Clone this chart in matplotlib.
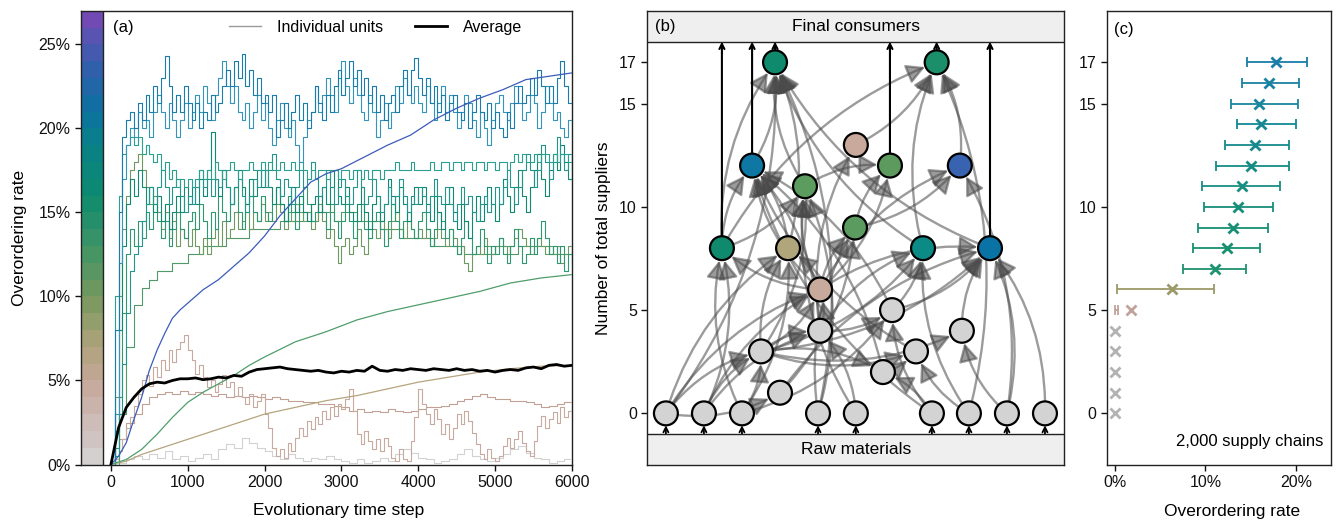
import numpy as np
import matplotlib
matplotlib.use('Agg')
import matplotlib.pyplot as plt
from matplotlib.colors import LinearSegmentedColormap
from matplotlib.patches import FancyArrowPatch
from matplotlib.lines import Line2D
from matplotlib.ticker import FuncFormatter

plt.rcParams['font.family'] = ['Liberation Sans', 'DejaVu Sans']
plt.rcParams['font.size'] = 11.5

# ---------------- Panel (a) data : overordering rate (%) ----------------
STEP_NOISY = 50   # time step between values of noisy series
STEP_AVG = 100

blue_1 = [0, 8, 15, 19.5, 20.5, 21, 20, 21.5, 20.5, 22, 21, 22.5, 21.5, 23, 24.3, 22.5, 21, 22, 21, 22.5, 21.5,
          20.5, 21.5, 20, 21, 20.5, 22, 21, 21.5, 22.5, 23.5, 22.5, 24, 23, 24.4, 22.5, 23.5, 22, 23, 21.5, 22,
          21, 22, 19.5, 20.5, 21.5, 20, 21, 22, 20.5, 21.5, 20, 21, 22.5, 21.5, 20.5, 22, 21, 22.5, 23.5, 22,
          23, 24, 22.5, 23.5, 22, 23, 21.5, 22.5, 21, 22, 20.5, 21.5, 22, 21, 22.5, 23.5, 22, 23.5, 24.2, 23,
          22, 23, 21.5, 22.5, 21, 22, 20.5, 21.5, 22, 21, 20.5, 21.5, 20, 21, 22, 21, 20.5, 21.5, 20, 21,
          20, 19.5, 21, 20, 21.5, 22.5, 21.5, 22, 23, 22, 23.5, 22.5, 21.5, 22.5, 21.5, 23, 24, 22.5, 21.5, 22]

blue_2 = [0, 3, 12, 17, 19, 20, 19.5, 21, 20, 20.5, 19.5, 21, 22, 21, 20, 21.5, 20.5, 19.5, 20.5, 21.5, 20,
          21, 22, 21, 22.5, 21.5, 20.5, 22, 23, 24, 22.5, 21.5, 22.5, 21, 20.5, 21.5, 20, 21, 22, 20.5, 21.5,
          20, 19, 20.5, 21.5, 20, 19.5, 20.5, 19, 18, 19.5, 20.5, 21, 22.5, 21, 22, 23, 22, 21, 23, 24,
          22.5, 21.5, 23, 22, 21, 20.5, 22, 21, 19.5, 20.5, 21.5, 20, 21, 22.5, 21.5, 23, 22, 21.5, 22.5, 21.5,
          21, 22.5, 21.5, 20.5, 21.5, 22.5, 21, 22, 21, 20, 21, 22, 21.5, 20.5, 19.5, 21, 20, 19, 20.5, 21.5,
          22, 21, 20.5, 21.5, 22.5, 21.5, 20.5, 21, 22, 21.5, 20, 21, 22.5, 21.5, 20.5, 21, 20, 19.5, 20.5, 19.5]

green_a = [0, 10, 16, 18.5, 19, 19.5, 19, 19.5, 18.5, 19, 18.5, 18, 18.5, 17.5, 18, 17, 17.5, 16.5, 17, 16.5, 17,
           16.5, 17, 17.5, 17, 17.5, 17, 18, 17.5, 17, 17.5, 18, 17.5, 17, 17.5, 17.5, 18, 17.5, 17.5, 18, 17.5,
           18, 17.5, 17.5, 18, 17.5, 17.5, 18, 17.5, 18, 17.5, 17, 17.5, 17, 17.5, 17.5, 17, 17.5, 17.5, 17, 17.5,
           17.5, 17, 17.5, 17.5, 17, 17.5, 17, 17.5, 17.5, 17, 17.5, 17.5, 17.5, 18, 17.5, 17.5, 17.5, 18, 17.5, 17.5,
           17.5, 17.5, 18, 17.5, 17.5, 18, 18, 17.5, 18, 18, 17.5, 18, 18, 17.5, 18, 18, 17.5, 18, 18, 17.5,
           18, 18, 17.5, 18, 18.5, 18, 18.5, 18, 18, 18.5, 18, 18.5, 18.5, 18, 18.5, 18, 18.5, 18.5, 18, 18.5]

green_b = [0, 2, 8, 13, 15.5, 17, 16, 17.5, 16.5, 15.5, 16.5, 15, 16, 14.5, 15.5, 14, 15, 16, 15, 16.5, 15.5,
           16.5, 15.5, 17, 16, 17.5, 19.8, 17, 16, 17.5, 16.5, 15.5, 16.5, 17.5, 16.5, 15.5, 17, 16, 17.5, 16.5, 17.5,
           16.5, 15.5, 16.5, 15.5, 14.5, 15.5, 16.5, 15, 16, 15, 14.5, 15.5, 16, 15, 16.5, 15.5, 16.5, 17.5, 16, 15.5,
           16.5, 15, 14.5, 15.5, 16.5, 15, 14, 15.5, 16, 14.5, 15.5, 17, 16, 15, 16.5, 15.5, 14.5, 15.5, 16.5, 15.5,
           16.5, 15.5, 14.5, 16, 15, 14, 15.5, 16.5, 15, 14, 15.5, 14.5, 13.5, 15, 16, 14.5, 15.5, 16.5, 15.5, 14.5,
           15.5, 17, 16, 15, 16.5, 17.5, 16, 15, 16.5, 17.5, 18.5, 17, 16, 17.5, 18.5, 17.5, 19, 18, 17, 18]

green_c = [0, 1, 4, 9, 12.5, 14, 13, 14.5, 13.5, 15, 14, 15.5, 14.5, 13.5, 14.5, 13, 14, 15, 14, 13.5, 14.5,
           15, 14, 15.5, 14.5, 13.5, 15, 14, 16, 15, 14.5, 15.5, 16.5, 15, 14, 15.5, 16, 15, 14.5, 16, 15,
           14.5, 15.5, 16.5, 15.5, 14.5, 16, 15, 14, 15.5, 16.5, 15.5, 14.5, 15, 16, 15, 14, 15.5, 14.5, 13.5, 14.5,
           15.5, 14.5, 13.5, 14.5, 15.5, 14, 13.5, 14.5, 15, 14, 13, 14.5, 15.5, 14.5, 13.5, 14.5, 15, 14, 13.5, 14.5,
           15, 14, 13, 14, 15, 14.5, 13.5, 14, 13, 12.5, 13.5, 14.5, 13.5, 12.5, 13, 14, 13, 12, 13, 12.5,
           13.5, 12.5, 12, 13, 14, 13, 12, 12.5, 13.5, 12.5, 13.5, 14.5, 13.5, 12.5, 13, 12, 13, 11.5, 12.5, 12]

green_d = [0, 4, 10, 14, 16, 17.5, 18, 18.5, 17.5, 16.5, 15.5, 16, 15, 14, 15, 13.5, 14.5, 13, 14, 13.5, 13,
           14, 13, 12.5, 13.5, 12.5, 13.5, 14, 13, 14.5, 13.5, 14, 15, 14, 14.5, 15, 14, 15, 14.5, 15.5, 14.5,
           15, 14.5, 15.5, 15, 14, 15, 14.5, 15.5, 15, 14.5, 15, 14, 14.5, 15.5, 14.5, 13.5, 14, 13, 12, 13,
           13.5, 12.5, 13, 14, 13, 12.5, 13.5, 14, 13.5, 14.5, 14, 13.5, 14.5, 15, 14, 13.5, 14.5, 14, 13.5, 14,
           13.5, 14, 13, 13.5, 14, 13.5, 13, 14, 13.5, 12.5, 13, 12, 11.5, 12.5, 13, 12.5, 13.5, 13, 12.5, 13,
           13.5, 13, 12.5, 13, 13.5, 14, 13.5, 13, 12.5, 13, 13.5, 13, 12.5, 13, 12.5, 13, 12, 12.5, 13, 12.5]

green_f = [0, 0.5, 3, 6, 9, 11.5, 12.5, 13, 14.5, 15.5, 16.5, 15.5, 16.5, 17.5, 16.5, 15.5, 16.5, 17, 16, 15, 16,
           15.5, 16.5, 17.5, 16.5, 17, 16, 17, 16.5, 17.5, 16.5, 15.5, 16.5, 17, 16, 15, 16, 17, 16.5, 17.5, 16.5,
           17.5, 18.5, 17, 16, 17, 16.5, 15.5, 16.5, 17.5, 16.5, 17, 18, 17, 16, 16.5, 17.5, 16.5, 15.5, 16.5, 17,
           16, 15.5, 16.5, 17.5, 16.5, 15.5, 16, 17, 16, 15, 15.5, 16.5, 15.5, 16, 17, 16, 15, 16, 15.5, 16.5,
           16, 15, 16, 17, 16, 15.5, 16.5, 15.5, 14.5, 15.5, 16.5, 15.5, 16, 15, 14.5, 15.5, 16, 15, 15.5, 16.5,
           15.5, 16.5, 17.5, 16.5, 15.5, 16.5, 17.5, 18.5, 17.5, 16.5, 17.5, 19, 18, 17, 18, 19.5, 18.5, 17.5, 18.5, 17.5]

rosy_2 = [0, 0.3, 0.8, 1.5, 2.2, 2.8, 3.5, 4.2, 5.0, 5.3, 4.7, 5.8, 5.2, 6.2, 5.6, 6.8, 6.1, 6.9, 7.3, 7.7, 6.8,
          6.2, 5.4, 5.9, 5.2, 4.6, 5.0, 4.3, 4.8, 5.3, 4.6, 4.9, 4.1, 4.6, 4.0, 3.6, 4.2, 3.4, 3.8, 4.2, 3.0,
          2.2, 1.0, 0.5, 0.9, 0.4, 1.3, 0.8, 1.6, 2.2, 1.7, 2.6, 2.1, 2.8, 2.4, 3.2, 2.7, 3.4, 2.9, 3.6, 3.3,
          3.9, 4.5, 3.2, 1.8, 1.2, 2.0, 1.4, 0.9, 1.5, 0.8, 1.6, 1.1, 0.4, 0.2, 0.9, 0.3, 0.2, 1.4, 2.8, 4.5,
          3.6, 3.0, 2.4, 3.3, 2.7, 1.8, 2.4, 1.5, 2.2, 3.0, 2.4, 3.2, 2.6, 1.9, 1.2, 0.6, 0.3, 0.9, 0.4, 0.2,
          0.5, 1.1, 1.6, 1.0, 1.5, 2.0, 1.3, 0.8, 0.5, 1.4, 2.3, 2.9, 2.2, 2.7, 3.1, 2.5, 3.4, 2.8, 3.2, 3.0]

# 100-step series
green_e = [0, 3, 7, 9.5, 10.5, 11, 11.5, 11.5, 12, 12, 12.5,
           12.5, 13, 13, 13, 13.5, 13.5, 13.5, 14, 14, 14,
           14, 14.5, 14.5, 14.5, 15, 14.5, 15, 15, 14.5, 15,
           15, 14.5, 14.5, 14.5, 14, 14, 14, 13.5, 13.5, 13.5,
           13.5, 13, 13, 13, 13, 12.5, 12.5, 12.5, 12.5, 13,
           13, 12.5, 13, 13, 13, 13, 12.5, 12.5, 12.5, 12.5]

rosy_1 = [0, 1.5, 2.5, 3.0, 3.6, 4.0, 4.2, 4.3, 4.2, 4.4, 4.2,
          4.3, 4.2, 4.1, 4.2, 4.0, 4.1, 4.0, 4.1, 4.0, 3.9,
          4.0, 3.9, 3.8, 3.8, 3.7, 3.7, 3.6, 3.6, 3.5, 3.4,
          3.2, 3.3, 3.1, 3.2, 3.1, 3.3, 3.2, 3.1, 3.2, 3.3,
          3.4, 3.4, 3.5, 3.6, 3.8, 3.9, 4.1, 4.2, 4.0, 3.9,
          3.9, 3.8, 3.8, 3.7, 3.6, 3.4, 3.5, 3.6, 3.7, 3.7]

grey_1 = [0, 0.1, 0.3, 0.5, 0.3, 0.6, 0.4, 0.8, 0.3, 0.5, 0.2,
          0.4, 0.6, 0.3, 0.9, 1.2, 1.0, 1.6, 1.3, 1.0, 0.8,
          0.5, 0.3, 0.6, 0.4, 0.2, 0.4, 0.3, 0.5, 0.3, 0.2,
          0.1, 0.3, 0.1, 0.2, 0.4, 0.2, 0.6, 0.9, 0.7, 0.4,
          0.3, 0.1, 0.2, 0.3, 0.6, 0.9, 0.5, 0.3, 0.2, 0.4,
          0.6, 0.9, 1.1, 0.7, 0.4, 0.3, 0.1, 0.2, 0.3, 0.1]

average = [0, 2.2, 3.4, 4.0, 4.5, 4.8, 4.9, 4.85, 5.0, 5.1, 5.1,
           5.15, 5.05, 5.1, 5.2, 5.15, 5.3, 5.25, 5.5, 5.65, 5.7,
           5.75, 5.8, 5.7, 5.65, 5.6, 5.55, 5.6, 5.5, 5.45, 5.55,
           5.5, 5.6, 5.55, 5.85, 5.6, 5.55, 5.65, 5.6, 5.7, 5.65,
           5.6, 5.7, 5.65, 5.6, 5.7, 5.6, 5.65, 5.55, 5.6, 5.5,
           5.6, 5.65, 5.6, 5.75, 5.8, 5.7, 5.9, 5.95, 5.85, 5.9]

# smooth series (time, value)
smooth_blue_t = [0, 100, 200, 300, 400, 500, 600, 700, 800, 900, 1000, 1200, 1400, 1600, 1800, 2000, 2200,
                 2400, 2600, 2800, 3000, 3300, 3600, 3900, 4200, 4500, 4800, 5100, 5400, 5700, 6000]
smooth_blue_v = [0, 0.5, 1.3, 2.7, 4.0, 5.6, 6.8, 7.8, 8.7, 9.2, 9.6, 10.4, 11.0, 11.8, 12.6, 13.6, 14.8,
                 15.8, 16.8, 17.3, 17.6, 18.3, 19.0, 19.6, 20.5, 21.2, 21.8, 22.3, 22.9, 23.1, 23.3]
smooth_green_t = [0, 200, 400, 600, 800, 1000, 1200, 1400, 1600, 1800, 2000, 2400, 2800, 3200, 3600, 4000,
                  4400, 4800, 5200, 5600, 6000]
smooth_green_v = [0, 0.3, 0.9, 1.8, 2.8, 3.7, 4.3, 4.8, 5.3, 5.9, 6.4, 7.3, 7.9, 8.6, 9.1, 9.5,
                  9.9, 10.3, 10.8, 11.1, 11.3]
smooth_tan_t = [0, 200, 400, 600, 800, 1000, 1200, 1600, 2000, 2400, 2800, 3200, 3600, 4000, 4400, 4800,
                5200, 5600, 6000]
smooth_tan_v = [0, 0.2, 0.6, 0.9, 1.2, 1.5, 1.8, 2.4, 3.0, 3.4, 3.8, 4.1, 4.5, 4.9, 5.2, 5.5, 5.7, 5.85, 5.9]

# colour scale anchors (value in %, colour)
cmap_pos = [0, 2, 5, 7, 10, 13, 16, 19, 21, 23, 25, 27]
cmap_col = ['#d4d4d4', '#cfbfbd', '#c4a797', '#b0a37c', '#75985d', '#3f9466', '#0c8b6f',
            '#0a8088', '#0b72a0', '#2763a9', '#4d57b1', '#7c46b4']

# ---------------- Panel (b) data : supply network ----------------
node_names = ['r0', 'r1', 'r2', 'r3', 'r4', 'r5', 'r6', 'r7', 'r8', 'a1', 'a2', 'a3', 'b3', 'a4', 'b4', 'a5',
              'a6', 'a8', 'b8', 'c8', 'd8', 'a9', 'a11', 'a12', 'b12', 'c12', 'a13', 'a17', 'b17']
node_suppliers = [0, 0, 0, 0, 0, 0, 0, 0, 0, 1, 2, 3, 3, 4, 4, 5,
                  6, 8, 8, 8, 8, 9, 11, 12, 12, 12, 13, 17, 17]
node_layout_x = [0.90, 2.74, 4.58, 8.26, 10.09, 13.77, 15.56, 17.40, 19.24, 6.42, 11.40, 5.50, 13.00, 8.36, 15.22, 11.84,
                 8.36, 3.61, 6.81, 13.34, 16.58, 10.05, 7.63, 5.07, 11.74, 15.12, 10.09, 6.18, 14.00]
node_colors = ['#d3d3d3'] * 16 + ['#c8aa9c', '#0f8a6c', '#b1a57c', '#0b8a86', '#0a73a5', '#5b9b60', '#5c9c5e',
                                  '#0f77a3', '#5c9b5d', '#3763b1', '#c8a99c', '#0f8a6c', '#1a8f69']
edges = [('r0', 'a1'),
         ('a3', 'a2'), ('r5', 'a2'),
         ('r1', 'a3'), ('r2', 'a3'), ('r0', 'a3'),
         ('a2', 'b3'), ('r6', 'b3'), ('a3', 'b3'),
         ('a3', 'a4'), ('r4', 'a4'), ('r1', 'a4'),
         ('a3', 'b4'), ('r7', 'b4'),
         ('a4', 'a5'), ('r5', 'a5'), ('r2', 'a5'),
         ('r0', 'a6'), ('a3', 'a6'), ('r1', 'a6'), ('a4', 'a6'),
         ('a6', 'a8'), ('r1', 'a8'), ('r2', 'a8'),
         ('r2', 'b8'), ('a3', 'b8'), ('a6', 'b8'), ('r0', 'b8'),
         ('a5', 'c8'), ('r6', 'c8'), ('a3', 'c8'), ('a4', 'c8'),
         ('a5', 'd8'), ('a6', 'd8'), ('a3', 'd8'), ('b4', 'd8'), ('r8', 'd8'), ('a1', 'd8'), ('r7', 'd8'),
         ('a6', 'a9'), ('a1', 'a9'), ('r3', 'a9'),
         ('a8', 'a11'), ('a6', 'a11'), ('r3', 'a11'), ('r4', 'a11'), ('a3', 'a11'),
         ('a8', 'a12'), ('b8', 'a12'), ('a6', 'a12'), ('a5', 'a12'), ('r5', 'a12'), ('a4', 'a12'), ('b3', 'a12'),
         ('a2', 'a12'),
         ('a11', 'b12'), ('a6', 'b12'), ('a9', 'b12'),
         ('a9', 'c12'), ('a6', 'c12'), ('r7', 'c12'),
         ('a4', 'a13'),
         ('r0', 'a17'), ('a8', 'a17'), ('a12', 'a17'), ('a11', 'a17'), ('b8', 'a17'), ('c8', 'a17'),
         ('r3', 'a17'), ('d8', 'a17'),
         ('a13', 'b17'), ('c8', 'b17'), ('c12', 'b17'), ('a8', 'b17'), ('r6', 'b17')]
to_consumers = ['a8', 'a12', 'a17', 'b12', 'b17', 'd8']

# ---------------- Panel (c) data ----------------
c_suppliers = list(range(18))
c_mean = [0, 0, 0, 0, 0, 1.8, 6.3, 11.1, 12.4, 13.1, 13.6, 14.1, 15.0, 15.5, 16.2, 15.9, 17.0, 17.8]
c_low = [None] * 5 + [0.05, 0.2, 7.5, 8.6, 9.2, 9.9, 9.6, 11.2, 12.2, 13.5, 12.85, 14.1, 14.6]
c_high = [None] * 5 + [0.35, 11.0, 14.5, 16.0, 16.9, 17.5, 18.3, 19.3, 19.3, 20.0, 20.2, 20.4, 21.2]
c_colors = ['#b3b3b3'] * 5 + ['#c0a29a', '#9c9a68', '#1f9270', '#17906f', '#169074', '#178e7a', '#1a8e80',
                              '#168c86', '#168a8c', '#158893', '#18869c', '#1a82a2', '#1a7ea8']

# ======================================================================
fig = plt.figure(figsize=(13.36, 5.25), dpi=100)
SPINE = '#222222'
TICK_FS = 11.5
LAB_FS = 12.5

def style_axes(ax):
    for s in ax.spines.values():
        s.set_color(SPINE)
        s.set_linewidth(1.0)
    ax.tick_params(direction='out', length=4, width=1, labelsize=TICK_FS, colors='#111111')

pct = FuncFormatter(lambda v, p: f'{v:.0f}%')

# ---------------- Panel (a) ----------------
ax = fig.add_axes([0.0606, 0.1152, 0.3675, 0.8644])
style_axes(ax)
cmap = LinearSegmentedColormap.from_list('ovr', [(p / 27, c) for p, c in zip(cmap_pos, cmap_col)])
for i in range(27):
    ax.fill_between([-390, -100], i, i + 1, color=cmap((i + 0.5) / 27), lw=0, zorder=1)
ax.axvline(-100, color=SPINE, lw=1.0, zorder=5)

def tgrid(v, step):
    return np.arange(len(v)) * step

series = [
    (grey_1, STEP_AVG, '#d2d2d2'),
    (rosy_1, STEP_AVG, '#c0a193'),
    (rosy_2, STEP_NOISY, '#c7aaa0'),
    (green_e, STEP_AVG, '#52996a'),
    (green_d, STEP_NOISY, '#6e9a62'),
    (green_c, STEP_NOISY, '#2e9870'),
    (green_b, STEP_NOISY, '#0f8a70'),
    (green_f, STEP_NOISY, '#22968a'),
    (green_a, STEP_NOISY, '#2aa08f'),
    (blue_2, STEP_NOISY, '#3495b8'),
    (blue_1, STEP_NOISY, '#1a7cab'),
]
for vals, st, col in series:
    ax.step(tgrid(vals, st), vals, where='post', color=col, lw=0.8, zorder=3)
ax.plot(smooth_tan_t, smooth_tan_v, color='#b5a47e', lw=0.9, zorder=3)
ax.plot(smooth_green_t, smooth_green_v, color='#4f9d6b', lw=0.9, zorder=3)
ax.plot(smooth_blue_t, smooth_blue_v, color='#3b5cb8', lw=0.9, zorder=3)
ax.plot(tgrid(average, STEP_AVG), average, color='black', lw=2.0, zorder=4)

ax.set_xlim(-390, 6000)
ax.set_ylim(0, 27)
ax.set_xticks([0, 1000, 2000, 3000, 4000, 5000, 6000])
ax.set_yticks([0, 5, 10, 15, 20, 25])
ax.yaxis.set_major_formatter(pct)
ax.set_xlabel('Evolutionary time step', fontsize=LAB_FS, labelpad=10)
ax.xaxis.set_label_coords(0.524, -0.085)
ax.set_ylabel('Overordering rate', fontsize=LAB_FS, labelpad=8)
ax.text(0.065, 0.962, '(a)', transform=ax.transAxes, fontsize=12, va='center', ha='left')
handles = [Line2D([], [], color='#9a9a9a', lw=1.0), Line2D([], [], color='black', lw=2.0)]
ax.legend(handles, ['Individual units', 'Average'], loc='upper center', bbox_to_anchor=(0.60, 1.012),
          ncol=2, frameon=False, fontsize=11.5, handlelength=2.0, handletextpad=1.0, columnspacing=2.0)

# ---------------- Panel (b) ----------------
axb = fig.add_axes([0.4845, 0.1143, 0.3119, 0.8653])
style_axes(axb)
axb.set_xlim(0, 20.16)
axb.set_ylim(-2.5, 19.5)
axb.set_xticks([])
axb.set_yticks([0, 5, 10, 15, 17])
axb.set_ylabel('Number of total suppliers', fontsize=LAB_FS, labelpad=6)
axb.axhspan(18, 19.5, color='#efefef', zorder=1, lw=0)
axb.axhspan(-2.5, -1, color='#efefef', zorder=1, lw=0)
axb.axhline(18, color=SPINE, lw=1.0, zorder=6)
axb.axhline(-1, color=SPINE, lw=1.0, zorder=6)
axb.text(10.08, 18.75, 'Final consumers', ha='center', va='center', fontsize=12.5, zorder=7)
axb.text(10.08, -1.75, 'Raw materials', ha='center', va='center', fontsize=12.5, zorder=7)
axb.text(0.018, 0.966, '(b)', transform=axb.transAxes, ha='left', va='center', fontsize=12, zorder=7)

pos = {n: (x, y) for n, x, y in zip(node_names, node_layout_x, node_suppliers)}
R_PT = 8.6
for i, (s, t) in enumerate(edges):
    (x0, y0), (x1, y1) = pos[s], pos[t]
    rad = 0.18 if (i % 2 == 0) else -0.18
    arr = FancyArrowPatch((x0, y0), (x1, y1), arrowstyle='-|>,head_length=0.55,head_width=0.3',
                          mutation_scale=20,
                          connectionstyle=f'arc3,rad={rad}', shrinkA=R_PT, shrinkB=R_PT + 0.5,
                          color='#4a4a4a', alpha=0.55, lw=1.7, zorder=2)
    axb.add_patch(arr)
for n in to_consumers:
    x, y = pos[n]
    axb.add_patch(FancyArrowPatch((x, y), (x, 18), arrowstyle='->', mutation_scale=9, shrinkA=R_PT,
                                  shrinkB=0, color='black', lw=1.5, zorder=3))
for n, y in zip(node_names, node_suppliers):
    if y == 0:
        x, _ = pos[n]
        axb.add_patch(FancyArrowPatch((x, -1), (x, 0), arrowstyle='->', mutation_scale=9, shrinkA=0,
                                      shrinkB=R_PT, color='black', lw=1.3, zorder=3))
axb.scatter(node_layout_x, node_suppliers, s=(2 * R_PT) ** 2, c=node_colors, edgecolors='black',
            linewidths=1.6, zorder=4)

# ---------------- Panel (c) ----------------
axc = fig.add_axes([0.8284, 0.1143, 0.1679, 0.8653])
style_axes(axc)
axc.set_xlim(-0.9, 23.9)
axc.set_ylim(-2.5, 19.5)
axc.set_yticks([0, 5, 10, 15, 17])
axc.set_xticks([0, 10, 20])
axc.xaxis.set_major_formatter(pct)
axc.set_xlabel('Overordering rate', fontsize=LAB_FS, labelpad=10)
axc.xaxis.set_label_coords(0.557, -0.085)
for y, m, lo, hi, col in zip(c_suppliers, c_mean, c_low, c_high, c_colors):
    if lo is not None:
        axc.errorbar([(lo + hi) / 2], [y], xerr=[(hi - lo) / 2], fmt='none', ecolor=col,
                     elinewidth=1.3, capsize=3.5, capthick=1.3, zorder=2)
    axc.plot([m], [y], marker='x', ms=7.5, mew=2.0, color=col, ls='none', zorder=3)
axc.text(0.033, 0.958, '(c)', transform=axc.transAxes, ha='left', va='center', fontsize=12)
axc.text(0.965, 0.035, '2,000 supply chains', transform=axc.transAxes, ha='right', va='bottom', fontsize=12)

fig.savefig('out.png', dpi=100)
